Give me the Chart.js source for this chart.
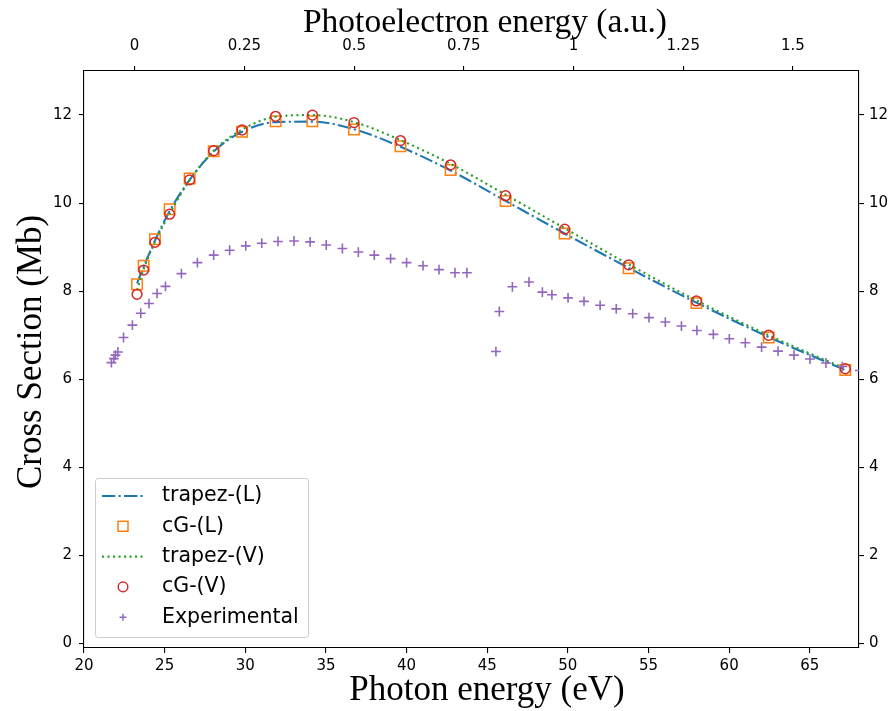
<!DOCTYPE html>
<html>
<head>
<meta charset="utf-8">
<title>Cross section</title>
<script src="https://cdn.jsdelivr.net/npm/chart.js@4.4.0/dist/chart.umd.min.js"></script>
<style>
body { margin: 0; background: #fff; }
#wrap { width: 893px; height: 711px; }
</style>
</head>
<body>
<div id="wrap"><canvas id="cs_chart" width="893" height="711"></canvas></div>
<script>
// photon energies of the cG points (eV)
const cg_energy = [23.29, 23.70, 24.40, 25.31, 26.55, 28.04, 29.80, 31.88, 34.16, 36.74,
                   39.62, 42.73, 46.14, 49.80, 53.77, 57.97, 62.45, 67.20];
const cg_len = [8.16, 8.58, 9.18, 9.86, 10.56, 11.18, 11.62, 11.86, 11.86, 11.67,
                11.29, 10.75, 10.05, 9.31, 8.52, 7.73, 6.95, 6.21];
const cg_vel = [7.93, 8.48, 9.11, 9.75, 10.53, 11.19, 11.66, 11.97, 12.00, 11.83,
                11.42, 10.87, 10.17, 9.41, 8.60, 7.78, 7.00, 6.24];
const trapez_len = [8.18, 8.56, 9.15, 9.82, 10.53, 11.17, 11.62, 11.84, 11.85, 11.68,
                    11.28, 10.74, 10.05, 9.31, 8.53, 7.74, 6.96, 6.21];
const trapez_vel = [8.02, 8.50, 9.12, 9.76, 10.52, 11.19, 11.67, 11.96, 12.00, 11.84,
                    11.43, 10.89, 10.19, 9.43, 8.61, 7.79, 7.00, 6.24];

const exp_energy = [21.70, 21.85, 21.95, 22.10, 22.45, 23.00, 23.52, 24.03, 24.53, 25.05,
                    26.04, 27.03, 28.04, 29.03, 30.03, 31.02, 32.03, 33.02, 34.02, 35.02,
                    36.02, 37.01, 38.00, 39.01, 40.00, 41.02, 42.01, 43.00, 43.74, 45.54,
                    45.75, 46.56, 47.59, 48.42, 49.01, 50.01, 51.00, 52.00, 53.00, 54.02,
                    55.03, 56.04, 57.04, 58.00, 59.02, 60.01, 61.00, 62.01, 63.03, 64.02,
                    65.01, 66.00, 67.02, 68.10];
const exp_cross = [6.38, 6.47, 6.55, 6.62, 6.95, 7.23, 7.50, 7.72, 7.95, 8.11,
                   8.40, 8.65, 8.82, 8.93, 9.03, 9.09, 9.13, 9.14, 9.12, 9.05,
                   8.97, 8.89, 8.82, 8.74, 8.65, 8.58, 8.49, 8.42, 8.42, 6.63,
                   7.54, 8.10, 8.21, 7.98, 7.92, 7.85, 7.77, 7.68, 7.60, 7.49,
                   7.40, 7.30, 7.21, 7.11, 7.02, 6.92, 6.83, 6.73, 6.64, 6.55,
                   6.46, 6.37, 6.29, 6.20];

const x_ticks = [20, 25, 30, 35, 40, 45, 50, 55, 60, 65];
const y_ticks = [0, 2, 4, 6, 8, 10, 12];
const au_ticks = [0, 0.25, 0.5, 0.75, 1, 1.25, 1.5];

const threshold_ev = 23.14;
const hartree_ev = 27.211;
const x_min = 20, x_max = 68.05;
const y_min = -0.1, y_max = 13;

const c_blue = '#1f77b4', c_orange = '#ff7f0e', c_green = '#2ca02c', c_red = '#d62728', c_purple = '#9467bd';
const dash_dot = [13.3, 3.3, 2.1, 3.3];
const dotted = [2.1, 3.4];
const tick_font = {family: 'DejaVu Sans', size: 15};

function pts(xs, ys) {
    return xs.map((x, i) => ({x: x, y: ys[i]}));
}
function to_au(ev) {
    return (ev - threshold_ev) / hartree_ev;
}
function fixed_ticks(list) {
    return function(scale) { scale.ticks = list.map(v => ({value: v})); };
}

const legend_items = [
    {label: 'trapez-(L)', kind: 'line', color: c_blue, dash: dash_dot},
    {label: 'cG-(L)', kind: 'rect', color: c_orange},
    {label: 'trapez-(V)', kind: 'line', color: c_green, dash: dotted},
    {label: 'cG-(V)', kind: 'circle', color: c_red},
    {label: 'Experimental', kind: 'cross', color: c_purple}
];

const legend_box = {
    id: 'legend_box',
    afterDraw(chart) {
        const ctx = chart.ctx;
        const bx = 95, by = 478, bw = 213, bh = 159;
        ctx.save();
        ctx.beginPath();
        ctx.roundRect(bx + 0.5, by + 0.5, bw, bh, 3);
        ctx.fillStyle = 'rgba(255,255,255,0.8)';
        ctx.fill();
        ctx.strokeStyle = '#cccccc';
        ctx.lineWidth = 1;
        ctx.stroke();
        legend_items.forEach((it, i) => {
            const cy = 496 + i * 30.3;
            ctx.strokeStyle = it.color;
            ctx.setLineDash([]);
            if (it.kind === 'line') {
                ctx.lineWidth = 2.1;
                ctx.setLineDash(it.dash);
                ctx.beginPath();
                ctx.moveTo(102, cy);
                ctx.lineTo(144, cy);
                ctx.stroke();
                ctx.setLineDash([]);
            } else if (it.kind === 'rect') {
                ctx.lineWidth = 1.5;
                ctx.strokeRect(123 - 5, cy - 5, 10, 10);
            } else if (it.kind === 'circle') {
                ctx.lineWidth = 1.5;
                ctx.beginPath();
                ctx.arc(123, cy, 4.8, 0, Math.PI * 2);
                ctx.stroke();
            } else {
                ctx.lineWidth = 1.5;
                ctx.beginPath();
                ctx.moveTo(119.5, cy); ctx.lineTo(126.5, cy);
                ctx.moveTo(123, cy - 3.5); ctx.lineTo(123, cy + 3.5);
                ctx.stroke();
            }
            ctx.fillStyle = '#000';
            ctx.font = '20.5px "DejaVu Sans"';
            ctx.textAlign = 'left';
            ctx.textBaseline = 'middle';
            ctx.fillText(it.label, 162, cy);
        });
        ctx.restore();
    }
};

// axis titles, drawn by hand so they sit where the original has them
const axis_titles = {
    id: 'axis_titles',
    afterDraw(chart) {
        const ctx = chart.ctx;
        ctx.save();
        ctx.fillStyle = '#000';
        ctx.textAlign = 'center';
        ctx.textBaseline = 'alphabetic';
        ctx.font = '35px "Liberation Serif"';
        ctx.fillText('Photon energy (eV)', 487, 700);
        ctx.font = '33.5px "Liberation Serif"';
        ctx.fillText('Photoelectron energy (a.u.)', 485, 32);
        ctx.font = '35px "Liberation Serif"';
        ctx.translate(41, 352);
        ctx.rotate(-Math.PI / 2);
        ctx.fillText('Cross Section (Mb)', 0, 0);
        ctx.restore();
    }
};

function axis_common(list, fit, pad) {
    return {
        type: 'linear',
        afterBuildTicks: fixed_ticks(list),
        afterFit: fit,
        border: {display: true, color: '#000', width: 1.1},
        grid: {drawOnChartArea: false, drawTicks: true, tickLength: 5, color: '#000', lineWidth: 1.1},
        ticks: {color: '#000', font: tick_font, padding: pad, maxRotation: 0, autoSkip: false,
                callback: v => String(v)}
    };
}

const x_axis = Object.assign(axis_common(x_ticks, s => { s.height = 63; }, 4), {
    position: 'bottom', min: x_min, max: x_max
});
const x2_axis = Object.assign(axis_common(au_ticks, s => { s.height = 71; }, 11), {
    position: 'top', min: to_au(x_min), max: to_au(x_max)
});
const y_axis = Object.assign(axis_common(y_ticks, s => { s.width = 84; }, 7), {
    position: 'left', min: y_min, max: y_max
});
const y2_axis = Object.assign(axis_common(y_ticks, s => { s.width = 34; }, 5), {
    position: 'right', min: y_min, max: y_max
});

const cs_chart = new Chart(document.getElementById('cs_chart').getContext('2d'), {
    type: 'scatter',
    data: {
        datasets: [{
            label: 'trapez-(L)',
            data: pts(cg_energy, trapez_len),
            showLine: true,
            borderColor: c_blue,
            borderWidth: 2.1,
            borderDash: dash_dot,
            cubicInterpolationMode: 'monotone',
            pointRadius: 0,
            order: 4
        }, {
            label: 'cG-(L)',
            data: pts(cg_energy, cg_len),
            pointStyle: 'rect',
            pointRadius: 7.4,
            pointBorderWidth: 1.5,
            borderColor: c_orange,
            backgroundColor: 'rgba(0,0,0,0)',
            order: 3
        }, {
            label: 'trapez-(V)',
            data: pts(cg_energy, trapez_vel),
            showLine: true,
            borderColor: c_green,
            borderWidth: 2.1,
            borderDash: dotted,
            cubicInterpolationMode: 'monotone',
            pointRadius: 0,
            order: 2
        }, {
            label: 'cG-(V)',
            data: pts(cg_energy, cg_vel),
            pointStyle: 'circle',
            pointRadius: 4.9,
            pointBorderWidth: 1.5,
            borderColor: c_red,
            backgroundColor: 'rgba(0,0,0,0)',
            order: 1
        }, {
            label: 'Experimental',
            data: pts(exp_energy, exp_cross),
            pointStyle: 'cross',
            pointRadius: 4.9,
            pointBorderWidth: 1.6,
            borderColor: c_purple,
            backgroundColor: c_purple,
            order: 0
        }]
    },
    options: {
        responsive: false,
        animation: false,
        devicePixelRatio: 1,
        layout: {padding: 0},
        plugins: {legend: {display: false}, tooltip: {enabled: false}},
        scales: {x: x_axis, x2: x2_axis, y: y_axis, y2: y2_axis}
    },
    plugins: [legend_box, axis_titles]
});
</script>
</body>
</html>
